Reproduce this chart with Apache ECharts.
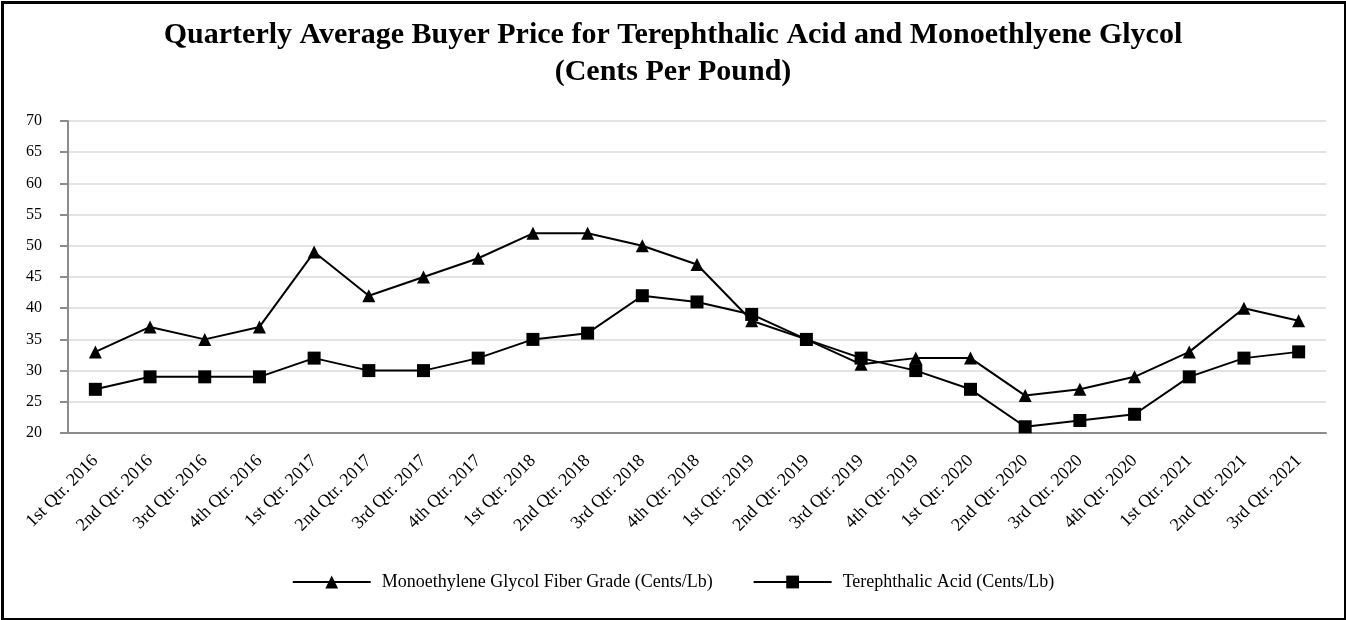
<!DOCTYPE html>
<html>
<head>
<meta charset="utf-8">
<script src="https://cdn.jsdelivr.net/npm/echarts@6/dist/echarts.min.js"></script>
<style>
html,body{margin:0;padding:0;background:#fff;}
#chart{width:1346px;height:620px;}
</style>
</head>
<body>
<div id="chart"></div>
<script>
var categories = ["1st Qtr. 2016","2nd Qtr. 2016","3rd Qtr. 2016","4th Qtr. 2016",
  "1st Qtr. 2017","2nd Qtr. 2017","3rd Qtr. 2017","4th Qtr. 2017",
  "1st Qtr. 2018","2nd Qtr. 2018","3rd Qtr. 2018","4th Qtr. 2018",
  "1st Qtr. 2019","2nd Qtr. 2019","3rd Qtr. 2019","4th Qtr. 2019",
  "1st Qtr. 2020","2nd Qtr. 2020","3rd Qtr. 2020","4th Qtr. 2020",
  "1st Qtr. 2021","2nd Qtr. 2021","3rd Qtr. 2021"];
var megValues = [33,37,35,37,49,42,45,48,52,52,50,47,38,35,31,32,32,26,27,29,33,40,38];
var ptaValues = [27,29,29,29,32,30,30,32,35,36,42,41,39,35,32,30,27,21,22,23,29,32,33];
var megName = "Monoethylene Glycol Fiber Grade (Cents/Lb)";
var ptaName = "Terephthalic Acid (Cents/Lb)";
var titleText = "Quarterly Average Buyer Price for Terephthalic Acid and Monoethlyene Glycol\n(Cents Per Pound)";

var serif = "'Liberation Serif','Times New Roman',serif";
var chart = echarts.init(document.getElementById('chart'));
chart.setOption({
  animation: false,
  textStyle: {fontFamily: serif},
  title: {
    text: titleText,
    left: 'center',
    top: 12,
    textStyle: {fontFamily: serif, fontWeight: 'bold', fontSize: 30, lineHeight: 37, color: '#000'}
  },
  graphic: [{
    type: 'rect', left: 0, top: 0, silent: true,
    shape: {x: 1.5, y: 1.5, width: 1343, height: 617},
    style: {fill: 'none', stroke: '#000', lineWidth: 3}
  }],
  legend: {
    bottom: 24,
    left: 'center',
    itemWidth: 78,
    itemHeight: 16,
    itemGap: 40,
    textStyle: {fontFamily: serif, fontSize: 18, color: '#000', padding: [0, 0, 0, 6]},
    data: [megName, ptaName]
  },
  grid: {left: 68, right: 20, top: 121, bottom: 187},
  xAxis: {
    type: 'category',
    data: categories,
    boundaryGap: true,
    axisLine: {lineStyle: {color: '#8c8c8c', width: 2}},
    axisTick: {alignWithLabel: true, length: 8, lineStyle: {color: '#8c8c8c', width: 2}},
    axisLabel: {rotate: 45, fontFamily: serif, fontSize: 18, color: '#000', margin: 25, interval: 0}
  },
  yAxis: {
    type: 'value',
    min: 20, max: 70, interval: 5,
    axisLine: {show: true, lineStyle: {color: '#8c8c8c', width: 2}},
    axisTick: {show: true, length: 8, lineStyle: {color: '#8c8c8c', width: 2}},
    axisLabel: {fontFamily: serif, fontSize: 16, color: '#000', margin: 26},
    splitLine: {lineStyle: {color: '#e3e3e3', width: 2}}
  },
  series: [{
    name: megName,
    type: 'line',
    data: megValues,
    symbol: 'triangle',
    symbolSize: 13,
    itemStyle: {color: '#000'},
    lineStyle: {color: '#000', width: 2}
  }, {
    name: ptaName,
    type: 'line',
    data: ptaValues,
    symbol: 'rect',
    symbolSize: 13,
    itemStyle: {color: '#000'},
    lineStyle: {color: '#000', width: 2}
  }]
});
</script>
</body>
</html>
